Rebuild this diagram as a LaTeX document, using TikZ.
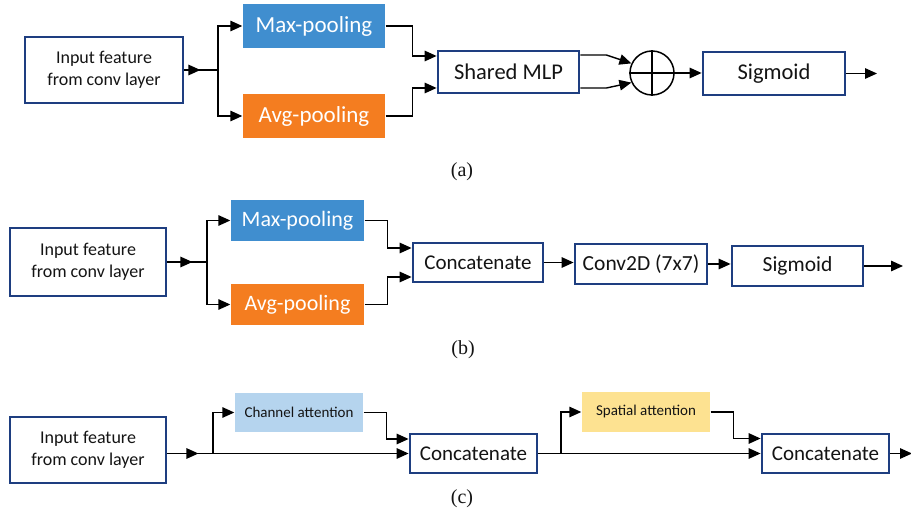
\documentclass[tikz,border=0pt]{standalone}
\usepackage{fontspec}
\setmainfont{Carlito}
\newfontfamily\capfont{Liberation Serif}
\usetikzlibrary{arrows.meta,calc}
\definecolor{boxblue}{RGB}{30,62,128}
\definecolor{maxfill}{RGB}{64,142,207}
\definecolor{avgfill}{RGB}{244,125,32}
\definecolor{chfill}{RGB}{181,212,238}
\definecolor{spfill}{RGB}{253,226,145}
\definecolor{ink}{RGB}{20,20,20}
\begin{document}
\begin{tikzpicture}[x=1pt,y=-1pt,
  line width=1.4pt,
  arr/.style={-{Triangle[length=12pt,width=10.5pt]}},
  box/.style={draw=boxblue,line width=2.8pt,fill=white,inner sep=0pt,
    text=ink,font=\fontsize{22.5}{26}\selectfont},
  inbox/.style={box,align=center,font=\fontsize{18}{22}\selectfont},
  pool/.style={inner sep=0pt,text=white,font=\fontsize{23}{26}\selectfont},
  attn/.style={inner sep=0pt,text=ink,font=\fontsize{15}{17}\selectfont},
  sublabel/.style={font=\capfont\fontsize{20}{22}\selectfont,text=ink},
  sz/.style 2 args={minimum width=#1,minimum height=#2}]
\useasboundingbox[fill=white] (0,0) rectangle (911,513);

% ---------------- (a) channel attention ----------------
\node[inbox,sz={158pt}{66pt}] (inA) at (104,70) {Input feature\\from conv layer};
\node[pool,fill=maxfill,sz={142pt}{44pt}] (maxA) at (314,26) {Max-pooling};
\node[pool,fill=avgfill,sz={142pt}{44pt}] (avgA) at (314,116) {Avg-pooling};
\node[box,sz={141pt}{42pt}] (mlpA) at (508.5,72) {Shared MLP};
\node[draw,circle,minimum size=44pt,inner sep=0pt,line width=1.5pt] (sumA) at (652,73) {};
\draw[line width=1.5pt] (sumA.north) -- (sumA.south) (sumA.west) -- (sumA.east);
\node[box,sz={142pt}{43pt}] (sigA) at (774,73.5) {Sigmoid};
\coordinate (jA) at (218,70);
\coordinate (outA) at (877,73.5);

\draw[arr] (inA.east) -- ++(16,0);
\draw (inA.east) -- (jA);
\draw[arr] (jA) |- (maxA.west);
\draw[arr] (jA) |- (avgA.west);
\draw[arr] (maxA.east) -- ++(27,0) |- ([yshift=16pt]mlpA.west);
\draw[arr] (avgA.east) -- ++(27,0) |- ([yshift=-16pt]mlpA.west);
\draw[arr] ([yshift=17pt]mlpA.east) -- ++(26,0) -- (sumA.155);
\draw[arr] ([yshift=-16pt]mlpA.east) -- ++(26,0) -- (sumA.205);
\draw[arr] (sumA.east) -- (sumA.east -| sigA.west);
\draw[arr] (sigA.east) -- (outA);
\node[sublabel] (capA) at (462,172) {(a)};

% ---------------- (b) spatial attention ----------------
\node[inbox,sz={156pt}{68pt}] (inB) at (88,262) {Input feature\\from conv layer};
\node[pool,fill=maxfill,sz={133pt}{41pt},font=\fontsize{22}{26}\selectfont] (maxB) at (297.5,220.5) {Max-pooling};
\node[pool,fill=avgfill,sz={133pt}{41pt},font=\fontsize{22}{26}\selectfont] (avgB) at (297.5,304.5) {Avg-pooling};
\node[box,sz={130pt}{39pt},font=\fontsize{21}{26}\selectfont] (catB) at (478,262.5) {Concatenate};
\node[box,sz={132pt}{40pt},font=\fontsize{21.5}{26}\selectfont] (convB) at (641,264) {Conv2D (7x7)};
\node[box,sz={131pt}{40pt},font=\fontsize{21.5}{26}\selectfont] (sigB) at (797.5,266) {Sigmoid};
\coordinate (jB) at (207,262);
\coordinate (outB) at (903,266);

\draw[arr] (inB.east) -- ++(25,0);
\draw (inB.east) -- (jB);
\draw[arr] (jB) |- (maxB.west);
\draw[arr] (jB) |- (avgB.west);
\draw[arr] (maxB.east) -- ++(23,0) |- ([yshift=14.5pt]catB.west);
\draw[arr] (avgB.east) -- ++(23,0) |- ([yshift=-14.5pt]catB.west);
\draw[arr] (catB.east) -- (catB.east -| convB.west);
\draw[arr] (convB.east) -- (convB.east -| sigB.west);
\draw[arr] (sigB.east) -- (outB);
\node[sublabel] (capB) at (463,350) {(b)};

% ---------------- (c) CBAM ----------------
\node[inbox,sz={156pt}{66pt}] (inC) at (88,450) {Input feature\\from conv layer};
\node[attn,fill=chfill,sz={128pt}{39pt}] (chC) at (299,412.5) {Channel attention};
\node[box,sz={127pt}{39pt},font=\fontsize{21}{26}\selectfont] (catC1) at (473.5,453.5) {Concatenate};
\node[attn,fill=spfill,sz={128pt}{40pt}] (spC) at (646,412) {Spatial attention};
\node[box,sz={127pt}{39pt},font=\fontsize{21}{26}\selectfont] (catC2) at (825.5,453.5) {Concatenate};
\coordinate (bC1) at (213,453.5);
\coordinate (bC2) at (561,453.5);
\coordinate (outC) at (912,453.5);

\draw[arr] (inC.east |- catC1.west) -- ++(31,0);
\draw[arr] (inC.east |- catC1.west) -- (catC1.west);
\draw[arr] (bC1) |- (chC.west);
\draw[arr] (chC.east) -- ++(23,0) |- ([yshift=14.5pt]catC1.west);
\draw[arr] (catC1.east) -- (catC2.west);
\draw[arr] (bC2) |- (spC.west);
\draw[arr] (spC.east) -- ++(23,0) |- ([yshift=15pt]catC2.west);
\draw[arr] (catC2.east) -- (outC);
\node[sublabel] (capC) at (462,499) {(c)};
\end{tikzpicture}
\end{document}
